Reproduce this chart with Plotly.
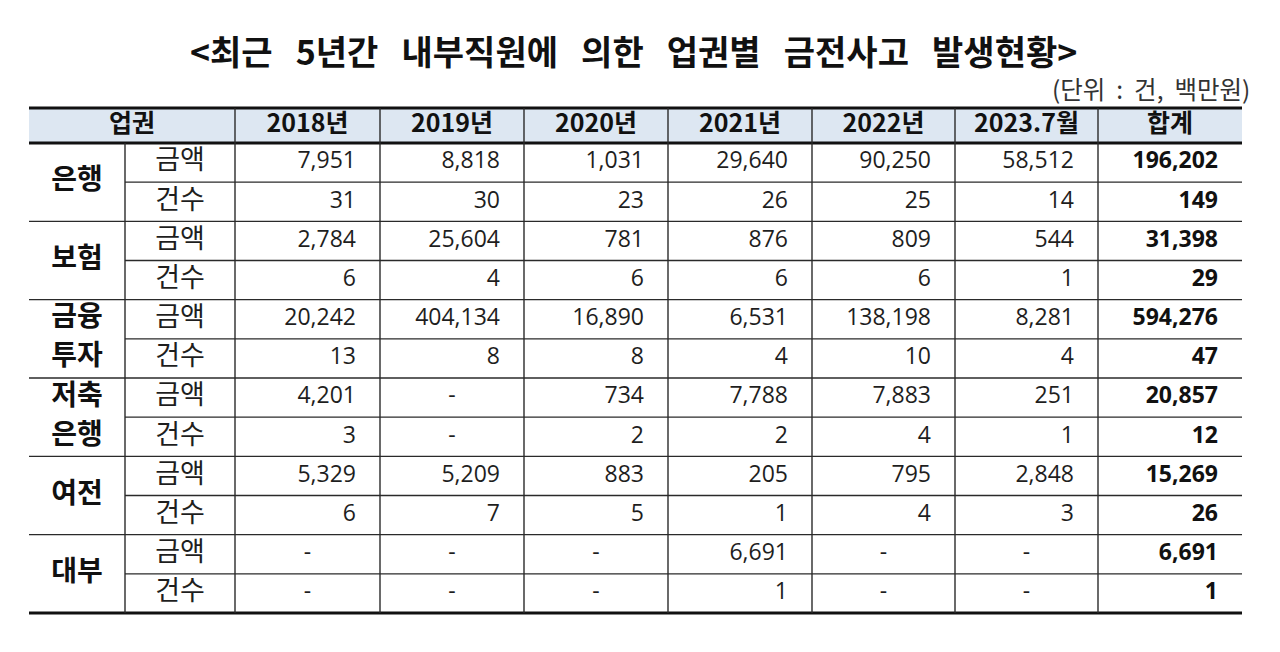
import plotly.graph_objects as go

# ---------------- data ----------------
title = "<최근 5년간 내부직원에 의한 업권별 금전사고 발생현황>"
unit_note = "(단위 : 건, 백만원)"
header_first = "업권"
years = ["2018년", "2019년", "2020년", "2021년", "2022년", "2023.7월"]
total_label = "합계"
sectors = ["은행", "보험", "금융 투자", "저축 은행", "여전", "대부"]
measures = ["금액", "건수"]

bank_amt = [7951, 8818, 1031, 29640, 90250, 58512]
bank_cnt = [31, 30, 23, 26, 25, 14]
ins_amt = [2784, 25604, 781, 876, 809, 544]
ins_cnt = [6, 4, 6, 6, 6, 1]
inv_amt = [20242, 404134, 16890, 6531, 138198, 8281]
inv_cnt = [13, 8, 8, 4, 10, 4]
sav_amt = [4201, None, 734, 7788, 7883, 251]
sav_cnt = [3, None, 2, 2, 4, 1]
card_amt = [5329, 5209, 883, 205, 795, 2848]
card_cnt = [6, 7, 5, 1, 4, 3]
loan_amt = [None, None, None, 6691, None, None]
loan_cnt = [None, None, None, 1, None, None]

totals_amt = [196202, 31398, 594276, 20857, 15269, 6691]
totals_cnt = [149, 29, 47, 12, 26, 1]

rows = [bank_amt, bank_cnt, ins_amt, ins_cnt, inv_amt, inv_cnt,
        sav_amt, sav_cnt, card_amt, card_cnt, loan_amt, loan_cnt]
row_totals = [v for pair in zip(totals_amt, totals_cnt) for v in pair]

# ---------------- layout geometry ----------------
# page body has an 8px margin; map axis units to window pixels
OFF = 8
W, H = 1280, 652
col_edges = [29, 125, 235, 380, 524, 668, 812, 955, 1098, 1242]
y_top, y_head, y_bot = 108, 143, 613
n_rows = len(rows)
row_h = (y_bot - y_head) / n_rows
pad = 24

FONT_NUM = "Open Sans, Noto Sans CJK KR, sans-serif"
FONT_KR = "Noto Sans CJK KR, sans-serif"
C_TEXT = "#1e1e1e"
C_LINE = "#2a2a2a"
NB = "\u00a0"


def row_center(i):
    return y_head + row_h * (i + 0.5)


def fmt(v):
    return "-" if v is None else f"{v:,}"


fig = go.Figure()

# header fill
shapes = [dict(type="rect", xref="x", yref="y", x0=col_edges[0], x1=col_edges[-1],
               y0=y_top, y1=y_head, fillcolor="#dde7f2", line_width=0, layer="below")]

# horizontal lines
for i in range(1, n_rows):
    y = y_head + row_h * i
    x0 = col_edges[0] if i % 2 == 0 else col_edges[1]
    shapes.append(dict(type="line", xref="x", yref="y", x0=x0, x1=col_edges[-1],
                       y0=y, y1=y, line=dict(color=C_LINE, width=1.4)))
for y, w in [(y_top, 3), (y_head, 3), (y_bot, 3)]:
    shapes.append(dict(type="line", xref="x", yref="y", x0=col_edges[0], x1=col_edges[-1],
                       y0=y, y1=y, line=dict(color="#111111", width=w)))
# vertical lines
for j, x in enumerate(col_edges[1:-1], start=1):
    ys = y_head if j == 1 else y_top
    shapes.append(dict(type="line", xref="x", yref="y", x0=x, x1=x, y0=ys, y1=y_bot,
                       line=dict(color=C_LINE, width=1.4)))

# header texts
hx, hy, ht = [], [], []
hx.append((col_edges[0] + col_edges[2]) / 2); hy.append((y_top + y_head) / 2); ht.append(header_first)
for j, lab in enumerate(years + [total_label]):
    hx.append((col_edges[2 + j] + col_edges[3 + j]) / 2)
    hy.append((y_top + y_head) / 2)
    ht.append(lab)
fig.add_trace(go.Scatter(x=hx, y=hy, text=ht, mode="text", textposition="middle center",
                         textfont=dict(family=FONT_KR, size=25, color="#111111", weight="bold"),
                         hoverinfo="skip", showlegend=False))

# sector names
sx, sy, st = [], [], []
for g, name in enumerate(sectors):
    parts = name.split(" ")
    if len(parts) == 1:
        sx.append((col_edges[0] + col_edges[1]) / 2)
        sy.append(y_head + row_h * (2 * g + 1))
        st.append(parts[0])
    else:
        for k, p in enumerate(parts):
            sx.append((col_edges[0] + col_edges[1]) / 2)
            sy.append(row_center(2 * g + k))
            st.append(p)
fig.add_trace(go.Scatter(x=sx, y=sy, text=st, mode="text", textposition="middle center",
                         textfont=dict(family=FONT_KR, size=28, color="#111111", weight="bold"),
                         hoverinfo="skip", showlegend=False))

# measure labels
mx = [(col_edges[1] + col_edges[2]) / 2] * n_rows
my = [row_center(i) for i in range(n_rows)]
mt = [measures[i % 2] for i in range(n_rows)]
fig.add_trace(go.Scatter(x=mx, y=my, text=mt, mode="text", textposition="middle center",
                         textfont=dict(family=FONT_KR, size=27, color=C_TEXT),
                         hoverinfo="skip", showlegend=False))

# values
vx, vy, vt, dx, dy, dt = [], [], [], [], [], []
for i, r in enumerate(rows):
    for j, v in enumerate(r):
        if v is None:
            dx.append((col_edges[2 + j] + col_edges[3 + j]) / 2)
            dy.append(row_center(i))
            dt.append(fmt(v))
        else:
            vx.append(col_edges[3 + j] - pad)
            vy.append(row_center(i))
            vt.append(fmt(v))
fig.add_trace(go.Scatter(x=vx, y=vy, text=vt, mode="text", textposition="middle left",
                         textfont=dict(family=FONT_NUM, size=23, color=C_TEXT),
                         hoverinfo="skip", showlegend=False))
fig.add_trace(go.Scatter(x=dx, y=dy, text=dt, mode="text", textposition="middle center",
                         textfont=dict(family=FONT_NUM, size=23, color=C_TEXT),
                         hoverinfo="skip", showlegend=False))

# totals
tx = [col_edges[-1] - pad] * n_rows
ty = [row_center(i) for i in range(n_rows)]
tt = [fmt(v) for v in row_totals]
fig.add_trace(go.Scatter(x=tx, y=ty, text=tt, mode="text", textposition="middle left",
                         textfont=dict(family=FONT_NUM, size=23, color="#111111", weight="bold"),
                         hoverinfo="skip", showlegend=False))

annotations = [
    dict(x=633, y=50, xref="x", yref="y", text=title.replace(" ", NB * 3), showarrow=False,
         font=dict(family=FONT_KR, size=34, color="#111111", weight="bold"),
         xanchor="center", yanchor="middle"),
    dict(x=1252, y=88, xref="x", yref="y", text=unit_note.replace(" ", NB * 2), showarrow=False,
         font=dict(family=FONT_KR, size=24.5, color="#333333"),
         xanchor="right", yanchor="middle"),
]

fig.update_layout(
    width=W - 2 * OFF, height=H - 2 * OFF,
    margin=dict(l=0, r=0, t=0, b=0),
    paper_bgcolor="white", plot_bgcolor="white",
    xaxis=dict(range=[OFF, W - OFF], visible=False, fixedrange=True),
    yaxis=dict(range=[H - OFF, OFF], visible=False, fixedrange=True),
    shapes=shapes, annotations=annotations,
)

fig.write_html("out.html", config={"displayModeBar": False})
